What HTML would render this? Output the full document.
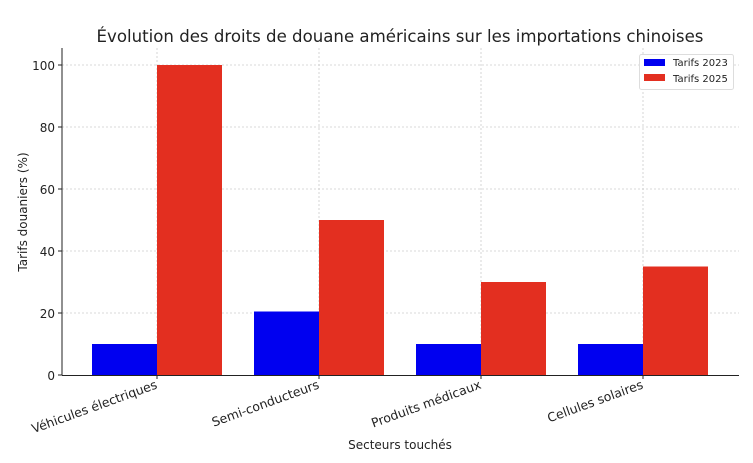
<!DOCTYPE html>
<html><head><meta charset="utf-8"><style>body{margin:0;background:#fff}svg{display:block}text{font-family:"DejaVu Sans","Liberation Sans",sans-serif;fill:#222}</style></head>
<body>
<svg width="753" height="463" viewBox="0 0 753 463" xmlns="http://www.w3.org/2000/svg">
<rect width="753" height="463" fill="#fff"/>
<g stroke="#ccc" stroke-width="0.8" stroke-dasharray="2,2">
<line x1="62" x2="739" y1="313" y2="313"/><line x1="62" x2="739" y1="251" y2="251"/><line x1="62" x2="739" y1="189" y2="189"/><line x1="62" x2="739" y1="127" y2="127"/><line x1="62" x2="739" y1="65" y2="65"/>
<line x1="157" x2="157" y1="48" y2="375"/><line x1="319" x2="319" y1="48" y2="375"/><line x1="481" x2="481" y1="48" y2="375"/><line x1="643" x2="643" y1="48" y2="375"/>
</g>
<g fill="#0000f0">
<rect x="92" y="344" width="65" height="31"/><rect x="254" y="311.5" width="65" height="63.5"/><rect x="416" y="344" width="65" height="31"/><rect x="578" y="344" width="65" height="31"/>
</g>
<g fill="#e32f20">
<rect x="157" y="65" width="65" height="310"/><rect x="319" y="220" width="65" height="155"/><rect x="481" y="282" width="65" height="93"/><rect x="643" y="266.5" width="65" height="108.5"/>
</g>
<g stroke="#222" stroke-width="1" fill="none">
<line x1="62" y1="48" x2="62" y2="375.5"/><line x1="62" y1="375.5" x2="739" y2="375.5"/>
<line x1="58" x2="62" y1="375" y2="375"/><line x1="58" x2="62" y1="313" y2="313"/><line x1="58" x2="62" y1="251" y2="251"/><line x1="58" x2="62" y1="189" y2="189"/><line x1="58" x2="62" y1="127" y2="127"/><line x1="58" x2="62" y1="65" y2="65"/>
<line x1="157" x2="157" y1="375" y2="379"/><line x1="319" x2="319" y1="375" y2="379"/><line x1="481" x2="481" y1="375" y2="379"/><line x1="643" x2="643" y1="375" y2="379"/>
</g>
<g font-size="12" text-anchor="end">
<text x="55" y="380">0</text><text x="55" y="318">20</text><text x="55" y="256">40</text><text x="55" y="194">60</text><text x="55" y="132">80</text><text x="55" y="70">100</text>
</g>
<g font-size="12.5" text-anchor="end">
<text transform="translate(158,388) rotate(-20)">Véhicules électriques</text>
<text transform="translate(320,388) rotate(-20)">Semi-conducteurs</text>
<text transform="translate(482,388) rotate(-20)">Produits médicaux</text>
<text transform="translate(644,388) rotate(-20)">Cellules solaires</text>
</g>
<text x="400" y="449" font-size="12" text-anchor="middle">Secteurs touchés</text>
<text transform="translate(27,212) rotate(-90)" font-size="12" text-anchor="middle">Tarifs douaniers (%)</text>
<text x="400" y="42" font-size="16.6" text-anchor="middle">Évolution des droits de douane américains sur les importations chinoises</text>
<rect x="639.5" y="54.5" width="94" height="35" rx="2" fill="#fff" stroke="#ddd"/>
<rect x="644" y="59" width="21" height="7" fill="#0000f0"/><rect x="644" y="74" width="21" height="7" fill="#e32f20"/>
<g font-size="10"><text x="673" y="66">Tarifs 2023</text><text x="673" y="82">Tarifs 2025</text></g>
</svg>
</body></html>
